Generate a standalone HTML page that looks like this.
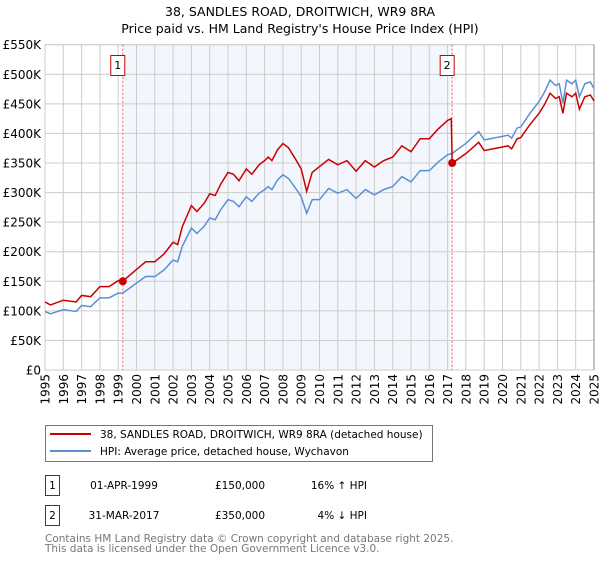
<!DOCTYPE html>
<html><head><meta charset="utf-8"><style>
body{margin:0;background:#fff;width:600px;height:560px;overflow:hidden;font-family:"DejaVu Sans","Liberation Sans",sans-serif}
svg text{font-family:"DejaVu Sans","Liberation Sans",sans-serif}
</style></head><body>
<svg id="chart" width="600" height="560">
<text x="300" y="16" text-anchor="middle" font-size="12.5">38, SANDLES ROAD, DROITWICH, WR9 8RA</text>
<text x="300" y="33" text-anchor="middle" font-size="12.5">Price paid vs. HM Land Registry's House Price Index (HPI)</text>
<g id="plot"></g>
<g>
<rect x="45.5" y="425.5" width="387" height="36" fill="#fff" stroke="#777"/>
<line x1="50" y1="434" x2="91" y2="434" stroke="#cc0000" stroke-width="2"/>
<text x="100" y="438" font-size="10.5">38, SANDLES ROAD, DROITWICH, WR9 8RA (detached house)</text>
<line x1="50" y1="451" x2="91" y2="451" stroke="#5b8fd4" stroke-width="2"/>
<text x="100" y="455" font-size="10.5">HPI: Average price, detached house, Wychavon</text>
</g>
<g font-size="10.5">
<rect x="45.5" y="475.5" width="14" height="20" fill="#fff" stroke="#cc0000"/>
<text x="52.5" y="489" text-anchor="middle">1</text>
<text x="124" y="489" text-anchor="middle">01-APR-1999</text>
<text x="240" y="489" text-anchor="middle">£150,000</text>
<text x="367" y="489" text-anchor="end">16% ↑ HPI</text>
<rect x="45.5" y="505.5" width="14" height="20" fill="#fff" stroke="#cc0000"/>
<text x="52.5" y="519" text-anchor="middle">2</text>
<text x="124" y="519" text-anchor="middle">31-MAR-2017</text>
<text x="240" y="519" text-anchor="middle">£350,000</text>
<text x="367" y="519" text-anchor="end">4% ↓ HPI</text>
</g>
<text x="45" y="542" font-size="10.5" fill="#777">Contains HM Land Registry data © Crown copyright and database right 2025.</text>
<text x="45" y="552" font-size="10.5" fill="#777">This data is licensed under the Open Government Licence v3.0.</text>
</svg>
<script>
const hpiYears=[1995,1995.3,1996,1996.7,1997,1997.5,1998,1998.5,1999,1999.25,2000,2000.5,2001,2001.5,2002,2002.25,2002.5,2003,2003.3,2003.7,2004,2004.3,2004.6,2005,2005.3,2005.6,2006,2006.3,2006.7,2007,2007.2,2007.4,2007.7,2008,2008.3,2008.7,2009,2009.3,2009.6,2010,2010.5,2011,2011.5,2012,2012.5,2013,2013.5,2014,2014.5,2015,2015.5,2016,2016.5,2017,2017.25,2017.5,2018,2018.3,2018.7,2019,2019.5,2020,2020.3,2020.5,2020.8,2021,2021.5,2022,2022.3,2022.6,2022.9,2023.1,2023.3,2023.5,2023.8,2024,2024.2,2024.5,2024.8,2025];
const hpiValues=[99,95,102,99,109,107,122,122,130,130,147,158,158,169,186,183,209,240,231,243,257,254,271,288,285,276,293,285,299,305,310,305,321,330,324,307,293,265,288,288,307,299,305,290,305,296,305,310,327,318,337,337,352,364,366,372,383,392,403,389,392,395,397,392,409,411,434,454,470,490,481,484,451,490,484,490,462,484,487,476];
const propYears=[1995,1995.3,1996,1996.7,1997,1997.5,1998,1998.5,1999,1999.25,2000,2000.5,2001,2001.5,2002,2002.25,2002.5,2003,2003.3,2003.7,2004,2004.3,2004.6,2005,2005.3,2005.6,2006,2006.3,2006.7,2007,2007.2,2007.4,2007.7,2008,2008.3,2008.7,2009,2009.3,2009.6,2010,2010.5,2011,2011.5,2012,2012.5,2013,2013.5,2014,2014.5,2015,2015.5,2016,2016.5,2017,2017.2,2017.25,2017.5,2018,2018.3,2018.7,2019,2019.5,2020,2020.3,2020.5,2020.8,2021,2021.5,2022,2022.3,2022.6,2022.9,2023.1,2023.3,2023.5,2023.8,2024,2024.2,2024.5,2024.8,2025];
const propValues=[115,110,118,115,126,124,141,141,151,150,170,183,183,196,216,212,242,278,268,282,298,295,314,334,331,320,340,331,347,354,360,354,372,383,376,356,340,302,334,344,356,347,354,336,354,343,354,360,379,369,391,391,408,422,425,350,355,366,374,385,371,374,377,379,374,391,393,415,434,449,468,459,462,434,468,462,468,441,462,465,455];
const saleYears=[1999.25,2017.25];
const saleValues=[150,350];
const saleLabels=["1","2"];
const yTicks=[0,50,100,150,200,250,300,350,400,450,500,550];
const yTickLabels=["£0","£50K","£100K","£150K","£200K","£250K","£300K","£350K","£400K","£450K","£500K","£550K"];
const xTicks=[1995,1996,1997,1998,1999,2000,2001,2002,2003,2004,2005,2006,2007,2008,2009,2010,2011,2012,2013,2014,2015,2016,2017,2018,2019,2020,2021,2022,2023,2024,2025];

const L=45,R=594,T=44.7,B=370;
const x=v=>L+(v-1995)/30*(R-L);
const y=v=>B-v/550*(B-T);
const NS="http://www.w3.org/2000/svg";
const g=document.getElementById('plot');
function mk(tag,attrs,parent){const e=document.createElementNS(NS,tag);for(const k in attrs)e.setAttribute(k,attrs[k]);(parent||g).appendChild(e);return e;}
mk('rect',{x:L,y:T,width:R-L,height:B-T,fill:'#fff'});
const sh=mk('rect',{x:x(saleYears[0]),y:T,width:x(saleYears[1])-x(saleYears[0]),height:B-T,fill:'#eef3fc',opacity:0.7});


yTicks.forEach((t,i)=>{
  mk('line',{x1:L,x2:R,y1:y(t),y2:y(t),stroke:'#ccc'});
  const tx=mk('text',{x:L-4,y:y(t)+4.5,'text-anchor':'end','font-size':'12'});
  tx.textContent=yTickLabels[i];
  
  
});
xTicks.forEach(t=>{
  mk('line',{x1:x(t),x2:x(t),y1:T,y2:B,stroke:'#ccc'});
  const tx=mk('text',{x:0,y:0,'text-anchor':'end','font-size':'12',transform:`translate(${x(t)+4.5},${B+4}) rotate(-90)`});
  tx.textContent=t;
  
  
});
mk('rect',{x:L,y:T,width:R-L,height:B-T,fill:'none',stroke:'#ccc'});
mk('line',{x1:R,x2:R,y1:T,y2:B,stroke:'#888'});
saleYears.forEach((s,i)=>{
  const ln=mk('line',{x1:x(s),x2:x(s),y1:T,y2:B,stroke:'#e06666','stroke-dasharray':'2,2'});
  
  
  mk('rect',{x:x(s)-12,y:55.5,width:14,height:20,fill:'#fff',stroke:'#cc0000'});
  const t=mk('text',{x:x(s)-5,y:69,'text-anchor':'middle','font-size':'11'});
  t.textContent=saleLabels[i];
  
  
});
const hp=mk('polyline',{points:hpiYears.map((v,i)=>x(v)+','+y(hpiValues[i])).join(' '),fill:'none',stroke:'#5b8fd4','stroke-width':1.5});


const pp=mk('polyline',{points:propYears.map((v,i)=>x(v)+','+y(propValues[i])).join(' '),fill:'none',stroke:'#cc0000','stroke-width':1.5});


saleYears.forEach((s,i)=>{
  const c=mk('circle',{cx:x(s),cy:y(saleValues[i]),r:4,fill:'#cc0000'});
  
  
});
</script>
</body></html>
